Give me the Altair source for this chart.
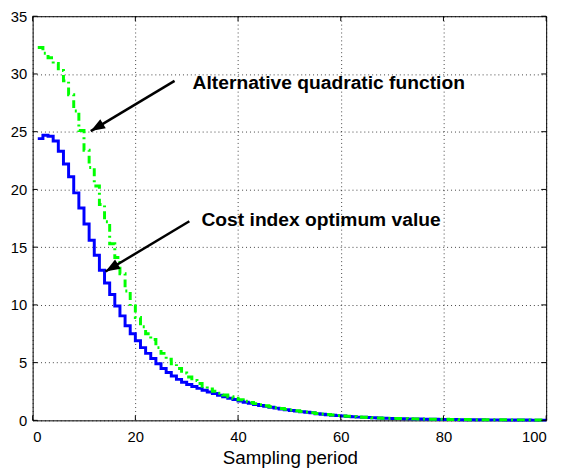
import math
import altair as alt
import pandas as pd

# ---- data ----
periods = list(range(1, 101))
cost_optimum = [
    24.4, 24.7, 24.6, 24.2, 23.3, 22.2, 21.1, 19.7, 18.4, 17.0,
    15.6, 14.3, 13.0, 11.9, 10.9, 9.9, 9.05, 8.2, 7.5, 6.9,
    6.3, 5.8, 5.35, 4.9, 4.5, 4.15, 3.85, 3.55, 3.3, 3.1,
    2.93, 2.77, 2.61, 2.46, 2.32, 2.18, 2.05, 1.92, 1.8, 1.68,
    1.57, 1.47, 1.38, 1.29, 1.21, 1.13, 1.06, 0.99, 0.92, 0.86,
    0.8, 0.75, 0.7, 0.65, 0.58, 0.53, 0.49, 0.45, 0.41, 0.37,
    0.34, 0.31, 0.28, 0.26, 0.24, 0.22, 0.2, 0.18, 0.17, 0.16,
    0.15, 0.14, 0.13, 0.12, 0.11, 0.1, 0.09, 0.09, 0.08, 0.08,
    0.07, 0.07, 0.06, 0.06, 0.05, 0.05, 0.05, 0.04, 0.04, 0.04,
    0.04, 0.03, 0.03, 0.03, 0.03, 0.03, 0.02, 0.02, 0.02, 0.02,
]
alt_quadratic = [
    32.3, 31.8, 31.4, 30.9, 30.3, 29.4, 28.2, 26.8, 25.1, 23.4,
    21.9, 20.3, 18.7, 17.2, 15.3, 14.1, 12.7, 11.2, 9.9, 8.9,
    8.1, 7.5, 7.0, 6.3, 5.8, 5.3, 4.9, 4.5, 4.1, 3.75,
    3.45, 3.2, 2.95, 2.72, 2.52, 2.35, 2.19, 2.05, 1.91, 1.78,
    1.66, 1.55, 1.45, 1.35, 1.26, 1.18, 1.1, 1.02, 0.95, 0.89,
    0.83, 0.77, 0.72, 0.67, 0.6, 0.55, 0.5, 0.46, 0.42, 0.38,
    0.35, 0.32, 0.29, 0.27, 0.25, 0.23, 0.21, 0.19, 0.18, 0.17,
    0.16, 0.15, 0.14, 0.13, 0.12, 0.11, 0.1, 0.1, 0.09, 0.09,
    0.08, 0.08, 0.07, 0.07, 0.06, 0.06, 0.06, 0.05, 0.05, 0.05,
    0.05, 0.04, 0.04, 0.04, 0.04, 0.04, 0.03, 0.03, 0.03, 0.03,
]
x_ticks = [0, 20, 40, 60, 80, 100]
y_ticks = [0, 5, 10, 15, 20, 25, 30, 35]

labels = ["Alternative quadratic function", "Cost index optimum value"]
label_x = [31.15, 32.88]
label_y = [28.69, 16.79]
arrow_tail_x = [27.64, 30.52]
arrow_tail_y = [29.40, 17.24]
arrow_tip_x = [11.32, 14.20]
arrow_tip_y = [25.05, 12.89]

W, H = 521, 410
XMAX, YMAX = 100, 35
FONT = "Liberation Sans"

# ---- tables ----
blue_df = pd.DataFrame({"x": periods, "y": cost_optimum})
green_df = pd.DataFrame({"x": periods, "y": alt_quadratic})

angles = []
for tx, ty, hx, hy in zip(arrow_tail_x, arrow_tail_y, arrow_tip_x, arrow_tip_y):
    dx = (hx - tx) * W / XMAX
    dy = -(hy - ty) * H / YMAX
    angles.append(math.degrees(math.atan2(dx, -dy)) % 360)

arrow_df = pd.DataFrame({
    "x": arrow_tail_x, "y": arrow_tail_y,
    "xe": arrow_tip_x, "ye": arrow_tip_y, "angle": angles,
})
head_df = pd.DataFrame({"x": arrow_tip_x, "y": arrow_tip_y, "angle": angles})
text_df = pd.DataFrame({"x": label_x, "y": label_y, "label": labels})
xt_df = pd.DataFrame({"x": x_ticks})
yt_df = pd.DataFrame({"y": y_ticks})

xs = alt.Scale(domain=[0, XMAX], nice=False)
ys = alt.Scale(domain=[0, YMAX], nice=False)

x_axis = alt.Axis(
    values=x_ticks, grid=True, ticks=False, tickSize=0, domain=False,
    labelFont=FONT, labelFontSize=15, labelColor="black", labelPadding=9.5,
    title="Sampling period", titleFont=FONT, titleFontSize=19,
    titleFontWeight="normal", titleColor="black",
    titleX=261, titleY=43.3, titleBaseline="alphabetic", titleAlign="center",
    gridColor="black", gridDash=[1, 3], gridOpacity=0.75, gridWidth=1,
)
y_axis = alt.Axis(
    values=y_ticks, grid=True, ticks=False, tickSize=0, domain=False,
    labelFont=FONT, labelFontSize=15, labelColor="black", labelPadding=6,
    title="",
    gridColor="black", gridDash=[1, 3], gridOpacity=0.75, gridWidth=1,
)


def X(field="x"):
    return alt.X(f"{field}:Q", scale=xs, axis=x_axis)


def Y(field="y"):
    return alt.Y(f"{field}:Q", scale=ys, axis=y_axis)


blue = alt.Chart(blue_df).mark_line(
    interpolate="step-after", color="#0000ff", strokeWidth=3
).encode(x=X(), y=Y())

green = alt.Chart(green_df).mark_line(
    interpolate="step-after", color="#00ff00", strokeWidth=3,
    strokeDash=[8, 4, 2, 4],
).encode(x=X(), y=Y())

shafts = alt.Chart(arrow_df).mark_rule(color="black", strokeWidth=2.5).encode(
    x=X(), y=Y(), x2="xe:Q", y2="ye:Q",
)

heads = alt.Chart(head_df).mark_point(
    shape="M0,0L-0.75,2L0.75,2Z", filled=True, color="black", opacity=1,
    size=210, strokeWidth=0,
).encode(
    x=X(), y=Y(),
    angle=alt.Angle("angle:Q", scale=None),
)

texts = alt.Chart(text_df).mark_text(
    align="left", baseline="alphabetic", font=FONT, fontWeight="bold",
    fontSize=19.5, color="black",
).encode(x=X(), y=Y(), text="label:N")

tick_len = 5
bottom_ticks = alt.Chart(xt_df).mark_rule(color="black", strokeWidth=1).encode(
    x=X(), y=alt.value(H), y2=alt.value(H - tick_len),
)
top_ticks = alt.Chart(xt_df).mark_rule(color="black", strokeWidth=1).encode(
    x=X(), y=alt.value(0), y2=alt.value(tick_len),
)
left_ticks = alt.Chart(yt_df).mark_rule(color="black", strokeWidth=1).encode(
    y=Y(), x=alt.value(0), x2=alt.value(tick_len),
)
right_ticks = alt.Chart(yt_df).mark_rule(color="black", strokeWidth=1).encode(
    y=Y(), x=alt.value(W - tick_len), x2=alt.value(W),
)

chart = alt.layer(
    blue, green, bottom_ticks, top_ticks, left_ticks, right_ticks,
    shafts, heads, texts,
).properties(
    width=W, height=H,
    autosize=alt.AutoSizeParams(type="none"),
    padding={"left": 25, "top": 5, "right": 12, "bottom": 46},
    background="white",
).configure_view(
    stroke="black", strokeWidth=1
)

chart.save("out.html", embed_options={"renderer": "svg", "actions": False})
